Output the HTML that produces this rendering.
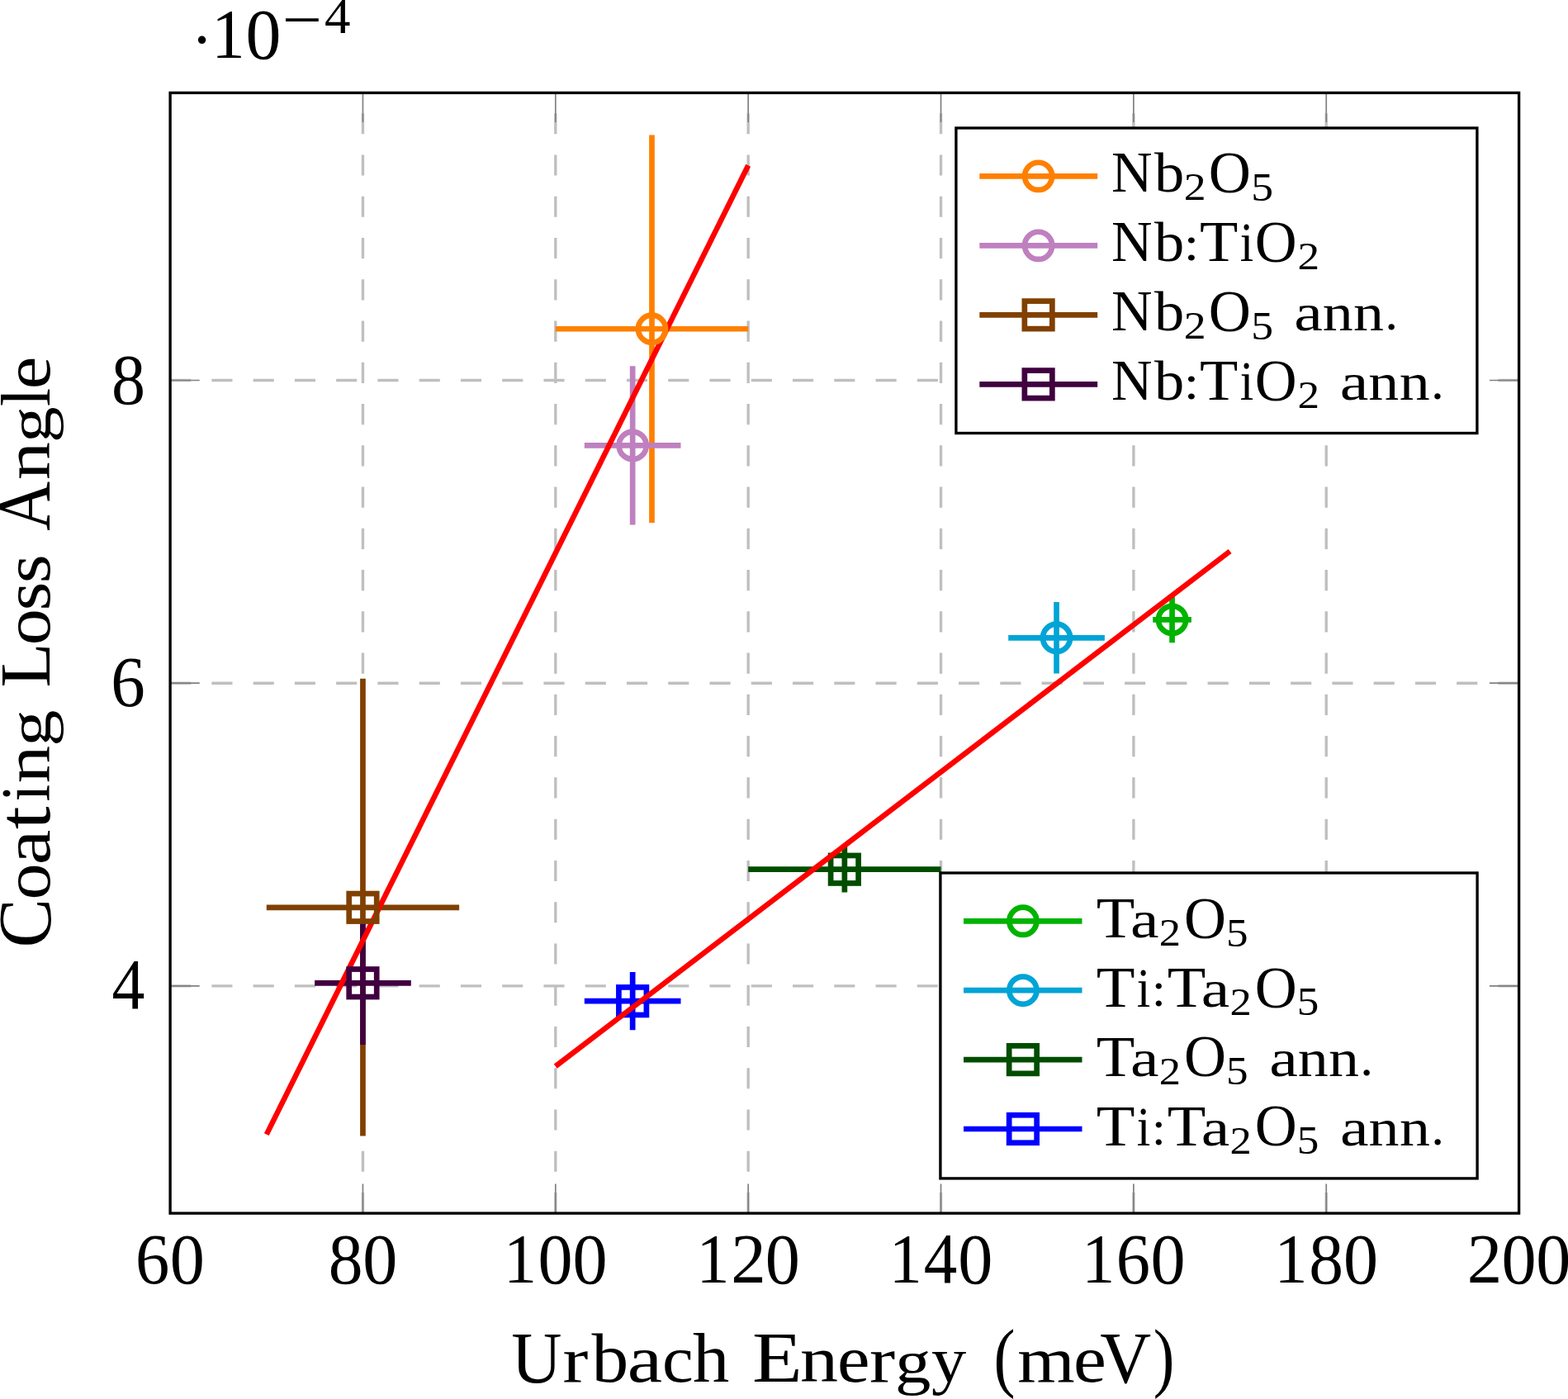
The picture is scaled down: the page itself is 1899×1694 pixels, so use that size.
<!DOCTYPE html><html><head><meta charset="utf-8"><style>html,body{margin:0;padding:0;background:#fff;}svg{display:block;}</style></head><body>
<svg width="1899" height="1694" viewBox="0 0 1899 1694">
<rect x="0" y="0" width="1899" height="1694" fill="#fff"/>
<path d="M439.46 1469.1V112.4 M672.81 1469.1V112.4 M906.17 1469.1V112.4 M1139.53 1469.1V112.4 M1372.89 1469.1V112.4 M1606.24 1469.1V112.4 M206.1 460.5H1839.6 M206.1 827.2H1839.6 M206.1 1193.9H1839.6" stroke="#bfbfbf" stroke-width="3.35" stroke-dasharray="25.13 25.13" fill="none"/>
<path d="M439.46 1469.1v-35.6 M439.46 112.4v35.6 M672.81 1469.1v-35.6 M672.81 112.4v35.6 M906.17 1469.1v-35.6 M906.17 112.4v35.6 M1139.53 1469.1v-35.6 M1139.53 112.4v35.6 M1372.89 1469.1v-35.6 M1372.89 112.4v35.6 M1606.24 1469.1v-35.6 M1606.24 112.4v35.6 M206.1 460.5h35.6 M1839.6 460.5h-35.6 M206.1 827.2h35.6 M1839.6 827.2h-35.6 M206.1 1193.9h35.6 M1839.6 1193.9h-35.6" stroke="#808080" stroke-width="1.7" fill="none"/>
<rect x="206.1" y="112.4" width="1633.5" height="1356.7" stroke="#000" stroke-width="3.35" fill="none"/>
<path d="M672.81 398.25H906.17M789.49 163.5V633" stroke="#ff8000" stroke-width="6.7" fill="none"/>
<path d="M707.82 539.4H824.5M766.16 443.2V635.6" stroke="#bf80bf" stroke-width="6.7" fill="none"/>
<path d="M322.78 1098.8H556.14M439.46 821.8V1375.5" stroke="#804000" stroke-width="6.7" fill="none"/>
<path d="M381.12 1190.3H497.8M439.46 1115.6V1265" stroke="#400040" stroke-width="6.7" fill="none"/>
<path d="M322.8 1373.6L906.2 200.3" stroke="#ff0000" stroke-width="6.5" fill="none"/>
<circle cx="789.49" cy="398.25" r="16.6" stroke="#ff8000" stroke-width="6.7" fill="none"/>
<circle cx="766.16" cy="539.4" r="16.6" stroke="#bf80bf" stroke-width="6.7" fill="none"/>
<rect x="422.71" y="1082.05" width="33.5" height="33.5" stroke="#804000" stroke-width="6.7" fill="none"/>
<rect x="422.71" y="1173.55" width="33.5" height="33.5" stroke="#400040" stroke-width="6.7" fill="none"/>
<path d="M1396.22 750.4H1442.89M1419.56 722.6V778.2" stroke="#00b300" stroke-width="6.7" fill="none"/>
<path d="M1221.2 772.3H1337.88M1279.54 729V815.4" stroke="#00a4d6" stroke-width="6.7" fill="none"/>
<path d="M906.17 1052.7H1139.53M1022.85 1024.8V1080.6" stroke="#004d00" stroke-width="6.7" fill="none"/>
<path d="M707.82 1212.2H824.5M766.16 1177V1247.3" stroke="#0000ff" stroke-width="6.7" fill="none"/>
<circle cx="1419.56" cy="750.4" r="16.6" stroke="#00b300" stroke-width="6.7" fill="none"/>
<circle cx="1279.54" cy="772.3" r="16.6" stroke="#00a4d6" stroke-width="6.7" fill="none"/>
<rect x="1006.1" y="1035.95" width="33.5" height="33.5" stroke="#004d00" stroke-width="6.7" fill="none"/>
<rect x="749.41" y="1195.45" width="33.5" height="33.5" stroke="#0000ff" stroke-width="6.7" fill="none"/>
<path d="M672.8 1291.1L1489.6 667.5" stroke="#ff0000" stroke-width="6.5" fill="none"/>
<rect x="1157.9" y="155" width="631" height="369.5" fill="#fff" stroke="#000" stroke-width="3.35"/>
<path d="M1186.3 213.35H1329.2" stroke="#ff8000" stroke-width="6.7" fill="none"/>
<circle cx="1257.6" cy="213.35" r="16.6" stroke="#ff8000" stroke-width="6.7" fill="none"/>
<path d="M1186.3 297.35H1329.2" stroke="#bf80bf" stroke-width="6.7" fill="none"/>
<circle cx="1257.6" cy="297.35" r="16.6" stroke="#bf80bf" stroke-width="6.7" fill="none"/>
<path d="M1186.3 381.35H1329.2" stroke="#804000" stroke-width="6.7" fill="none"/>
<rect x="1240.85" y="364.6" width="33.5" height="33.5" stroke="#804000" stroke-width="6.7" fill="none"/>
<path d="M1186.3 465.35H1329.2" stroke="#400040" stroke-width="6.7" fill="none"/>
<rect x="1240.85" y="448.6" width="33.5" height="33.5" stroke="#400040" stroke-width="6.7" fill="none"/>
<rect x="1138.9" y="1057" width="650.2" height="369.9" fill="#fff" stroke="#000" stroke-width="3.35"/>
<path d="M1167 1115.3H1310.5" stroke="#00b300" stroke-width="6.7" fill="none"/>
<circle cx="1238.9" cy="1115.3" r="16.6" stroke="#00b300" stroke-width="6.7" fill="none"/>
<path d="M1167 1199.2H1310.5" stroke="#00a4d6" stroke-width="6.7" fill="none"/>
<circle cx="1238.9" cy="1199.2" r="16.6" stroke="#00a4d6" stroke-width="6.7" fill="none"/>
<path d="M1167 1283.1H1310.5" stroke="#004d00" stroke-width="6.7" fill="none"/>
<rect x="1222.15" y="1266.35" width="33.5" height="33.5" stroke="#004d00" stroke-width="6.7" fill="none"/>
<path d="M1167 1367H1310.5" stroke="#0000ff" stroke-width="6.7" fill="none"/>
<rect x="1222.15" y="1350.25" width="33.5" height="33.5" stroke="#0000ff" stroke-width="6.7" fill="none"/>
<text font-family="'Liberation Serif', 'DejaVu Serif', serif"><tspan x="164.11" y="1553.84" font-size="86.57" textLength="41.29" lengthAdjust="spacingAndGlyphs">6</tspan><tspan x="205.84" y="1553.85" font-size="86.25" textLength="42.12" lengthAdjust="spacingAndGlyphs">0</tspan></text>
<text font-family="'Liberation Serif', 'DejaVu Serif', serif"><tspan x="397.64" y="1553.85" font-size="86.25" textLength="41.76" lengthAdjust="spacingAndGlyphs">8</tspan><tspan x="439.20" y="1553.85" font-size="86.25" textLength="42.12" lengthAdjust="spacingAndGlyphs">0</tspan></text>
<text font-family="'Liberation Serif', 'DejaVu Serif', serif"><tspan x="610.09" y="1552.70" font-size="85.17" textLength="40.00" lengthAdjust="spacingAndGlyphs">1</tspan><tspan x="651.61" y="1553.85" font-size="86.25" textLength="42.12" lengthAdjust="spacingAndGlyphs">0</tspan><tspan x="693.50" y="1553.85" font-size="86.25" textLength="42.12" lengthAdjust="spacingAndGlyphs">0</tspan></text>
<text font-family="'Liberation Serif', 'DejaVu Serif', serif"><tspan x="843.44" y="1552.70" font-size="85.17" textLength="40.00" lengthAdjust="spacingAndGlyphs">1</tspan><tspan x="885.15" y="1552.70" font-size="84.84" textLength="42.50" lengthAdjust="spacingAndGlyphs">2</tspan><tspan x="926.86" y="1553.85" font-size="86.25" textLength="42.12" lengthAdjust="spacingAndGlyphs">0</tspan></text>
<text font-family="'Liberation Serif', 'DejaVu Serif', serif"><tspan x="1076.80" y="1552.70" font-size="85.17" textLength="40.00" lengthAdjust="spacingAndGlyphs">1</tspan><tspan x="1118.81" y="1552.70" font-size="86.25" textLength="40.54" lengthAdjust="spacingAndGlyphs">4</tspan><tspan x="1160.21" y="1553.85" font-size="86.25" textLength="42.12" lengthAdjust="spacingAndGlyphs">0</tspan></text>
<text font-family="'Liberation Serif', 'DejaVu Serif', serif"><tspan x="1310.16" y="1552.70" font-size="85.17" textLength="40.00" lengthAdjust="spacingAndGlyphs">1</tspan><tspan x="1351.83" y="1553.84" font-size="86.57" textLength="41.29" lengthAdjust="spacingAndGlyphs">6</tspan><tspan x="1393.57" y="1553.85" font-size="86.25" textLength="42.12" lengthAdjust="spacingAndGlyphs">0</tspan></text>
<text font-family="'Liberation Serif', 'DejaVu Serif', serif"><tspan x="1543.52" y="1552.70" font-size="85.17" textLength="40.00" lengthAdjust="spacingAndGlyphs">1</tspan><tspan x="1585.37" y="1553.85" font-size="86.25" textLength="41.76" lengthAdjust="spacingAndGlyphs">8</tspan><tspan x="1626.93" y="1553.85" font-size="86.25" textLength="42.12" lengthAdjust="spacingAndGlyphs">0</tspan></text>
<text font-family="'Liberation Serif', 'DejaVu Serif', serif"><tspan x="1776.70" y="1552.70" font-size="84.84" textLength="42.50" lengthAdjust="spacingAndGlyphs">2</tspan><tspan x="1818.40" y="1553.85" font-size="86.25" textLength="42.12" lengthAdjust="spacingAndGlyphs">0</tspan><tspan x="1860.28" y="1553.85" font-size="86.25" textLength="42.12" lengthAdjust="spacingAndGlyphs">0</tspan></text>
<text font-family="'Liberation Serif', 'DejaVu Serif', serif"><tspan x="135.12" y="488.84" font-size="86.07" textLength="41.06" lengthAdjust="spacingAndGlyphs">8</tspan></text>
<text font-family="'Liberation Serif', 'DejaVu Serif', serif"><tspan x="134.37" y="855.24" font-size="86.39" textLength="41.52" lengthAdjust="spacingAndGlyphs">6</tspan></text>
<text font-family="'Liberation Serif', 'DejaVu Serif', serif"><tspan x="135.40" y="1221.10" font-size="86.84" textLength="39.89" lengthAdjust="spacingAndGlyphs">4</tspan></text>
<text font-family="'Liberation Serif', 'DejaVu Serif', serif"><tspan x="231.30" y="75.40" font-size="80.00" textLength="26.64" lengthAdjust="spacingAndGlyphs">·</tspan><tspan x="256.13" y="69.90" font-size="85.00" textLength="40.43" lengthAdjust="spacingAndGlyphs">1</tspan><tspan x="297.48" y="71.04" font-size="86.07" textLength="42.94" lengthAdjust="spacingAndGlyphs">0</tspan><tspan x="341.82" y="50.48" font-size="78.00" textLength="48.27" lengthAdjust="spacingAndGlyphs">−</tspan><tspan x="392.94" y="39.60" font-size="60.53" textLength="31.51" lengthAdjust="spacingAndGlyphs">4</tspan></text>
<text font-family="'Liberation Serif', 'DejaVu Serif', serif"><tspan x="619.30" y="1673.95" font-size="88.81" textLength="61.28" lengthAdjust="spacingAndGlyphs">U</tspan><tspan x="681.44" y="1673.00" font-size="78.36" textLength="30.90" lengthAdjust="spacingAndGlyphs">r</tspan><tspan x="716.40" y="1673.08" font-size="83.77" textLength="44.76" lengthAdjust="spacingAndGlyphs">b</tspan><tspan x="759.86" y="1673.12" font-size="80.11" textLength="42.37" lengthAdjust="spacingAndGlyphs">a</tspan><tspan x="802.01" y="1673.12" font-size="80.11" textLength="37.76" lengthAdjust="spacingAndGlyphs">c</tspan><tspan x="838.91" y="1673.00" font-size="83.65" textLength="44.29" lengthAdjust="spacingAndGlyphs">h</tspan> <tspan x="911.02" y="1673.00" font-size="87.35" textLength="60.62" lengthAdjust="spacingAndGlyphs">E</tspan><tspan x="969.13" y="1673.00" font-size="78.78" textLength="46.05" lengthAdjust="spacingAndGlyphs">n</tspan><tspan x="1013.94" y="1673.12" font-size="80.11" textLength="39.47" lengthAdjust="spacingAndGlyphs">e</tspan><tspan x="1052.93" y="1673.00" font-size="78.36" textLength="31.12" lengthAdjust="spacingAndGlyphs">r</tspan><tspan x="1083.91" y="1673.83" font-size="74.85" textLength="43.43" lengthAdjust="spacingAndGlyphs">g</tspan><tspan x="1127.94" y="1672.57" font-size="77.56" textLength="42.28" lengthAdjust="spacingAndGlyphs">y</tspan> <tspan x="1203.59" y="1674.27" font-size="92.56" textLength="25.99" lengthAdjust="spacingAndGlyphs">(</tspan><tspan x="1232.21" y="1673.00" font-size="78.78" textLength="69.46" lengthAdjust="spacingAndGlyphs">m</tspan><tspan x="1300.11" y="1673.12" font-size="80.11" textLength="39.83" lengthAdjust="spacingAndGlyphs">e</tspan><tspan x="1332.34" y="1673.52" font-size="88.15" textLength="61.90" lengthAdjust="spacingAndGlyphs">V</tspan><tspan x="1396.70" y="1674.27" font-size="92.56" textLength="25.61" lengthAdjust="spacingAndGlyphs">)</tspan></text>
<text font-family="'Liberation Serif', 'DejaVu Serif', serif" transform="rotate(-90)"><tspan x="-1147.56" y="60.74" font-size="90.56" textLength="59.42" lengthAdjust="spacingAndGlyphs">C</tspan><tspan x="-1089.51" y="59.92" font-size="80.11" textLength="44.12" lengthAdjust="spacingAndGlyphs">o</tspan><tspan x="-1047.26" y="59.92" font-size="80.11" textLength="42.59" lengthAdjust="spacingAndGlyphs">a</tspan><tspan x="-1004.21" y="59.81" font-size="91.60" textLength="27.95" lengthAdjust="spacingAndGlyphs">t</tspan><tspan x="-970.49" y="59.80" font-size="84.59" textLength="20.73" lengthAdjust="spacingAndGlyphs">i</tspan><tspan x="-948.15" y="59.80" font-size="78.78" textLength="45.51" lengthAdjust="spacingAndGlyphs">n</tspan><tspan x="-903.86" y="60.63" font-size="74.85" textLength="44.23" lengthAdjust="spacingAndGlyphs">g</tspan> <tspan x="-832.55" y="59.80" font-size="87.35" textLength="54.04" lengthAdjust="spacingAndGlyphs">L</tspan><tspan x="-781.22" y="59.92" font-size="80.11" textLength="44.24" lengthAdjust="spacingAndGlyphs">o</tspan><tspan x="-739.40" y="59.92" font-size="80.11" textLength="35.00" lengthAdjust="spacingAndGlyphs">s</tspan><tspan x="-706.30" y="59.92" font-size="80.11" textLength="35.00" lengthAdjust="spacingAndGlyphs">s</tspan> <tspan x="-642.83" y="59.80" font-size="90.88" textLength="59.82" lengthAdjust="spacingAndGlyphs">A</tspan><tspan x="-581.07" y="59.80" font-size="78.78" textLength="45.95" lengthAdjust="spacingAndGlyphs">n</tspan><tspan x="-536.02" y="60.63" font-size="74.85" textLength="43.77" lengthAdjust="spacingAndGlyphs">g</tspan><tspan x="-491.88" y="59.80" font-size="83.65" textLength="22.00" lengthAdjust="spacingAndGlyphs">l</tspan><tspan x="-471.28" y="59.92" font-size="80.11" textLength="39.71" lengthAdjust="spacingAndGlyphs">e</tspan></text>
<text font-family="'Liberation Serif', 'DejaVu Serif', serif"><tspan x="1345.94" y="232.10" font-size="70.07" textLength="49.58" lengthAdjust="spacingAndGlyphs">N</tspan><tspan x="1397.90" y="232.17" font-size="67.20" textLength="36.22" lengthAdjust="spacingAndGlyphs">b</tspan><tspan x="1433.78" y="242.30" font-size="47.40" textLength="26.88" lengthAdjust="spacingAndGlyphs">2</tspan><tspan x="1463.87" y="232.85" font-size="72.65" textLength="51.12" lengthAdjust="spacingAndGlyphs">O</tspan><tspan x="1515.21" y="242.72" font-size="48.27" textLength="26.83" lengthAdjust="spacingAndGlyphs">5</tspan></text>
<text font-family="'Liberation Serif', 'DejaVu Serif', serif"><tspan x="1345.94" y="316.15" font-size="70.07" textLength="49.58" lengthAdjust="spacingAndGlyphs">N</tspan><tspan x="1397.90" y="316.22" font-size="67.20" textLength="36.22" lengthAdjust="spacingAndGlyphs">b</tspan><tspan x="1433.55" y="315.25" font-size="59.72" textLength="18.92" lengthAdjust="spacingAndGlyphs">:</tspan><tspan x="1453.07" y="316.15" font-size="70.07" textLength="46.33" lengthAdjust="spacingAndGlyphs">T</tspan><tspan x="1501.72" y="316.15" font-size="67.86" textLength="16.44" lengthAdjust="spacingAndGlyphs">i</tspan><tspan x="1519.78" y="316.90" font-size="72.65" textLength="50.89" lengthAdjust="spacingAndGlyphs">O</tspan><tspan x="1571.40" y="326.35" font-size="47.40" textLength="26.62" lengthAdjust="spacingAndGlyphs">2</tspan></text>
<text font-family="'Liberation Serif', 'DejaVu Serif', serif"><tspan x="1345.94" y="400.00" font-size="70.07" textLength="49.58" lengthAdjust="spacingAndGlyphs">N</tspan><tspan x="1397.90" y="400.07" font-size="67.20" textLength="36.22" lengthAdjust="spacingAndGlyphs">b</tspan><tspan x="1433.78" y="410.20" font-size="47.40" textLength="26.88" lengthAdjust="spacingAndGlyphs">2</tspan><tspan x="1463.87" y="400.75" font-size="72.65" textLength="51.12" lengthAdjust="spacingAndGlyphs">O</tspan><tspan x="1515.21" y="410.62" font-size="48.27" textLength="26.83" lengthAdjust="spacingAndGlyphs">5</tspan> <tspan x="1567.17" y="400.10" font-size="64.26" textLength="34.61" lengthAdjust="spacingAndGlyphs">a</tspan><tspan x="1601.74" y="400.00" font-size="63.20" textLength="36.97" lengthAdjust="spacingAndGlyphs">n</tspan><tspan x="1639.14" y="400.00" font-size="63.20" textLength="36.97" lengthAdjust="spacingAndGlyphs">n</tspan><tspan x="1677.38" y="399.09" font-size="60.62" textLength="15.83" lengthAdjust="spacingAndGlyphs">.</tspan></text>
<text font-family="'Liberation Serif', 'DejaVu Serif', serif"><tspan x="1345.94" y="484.15" font-size="70.07" textLength="49.58" lengthAdjust="spacingAndGlyphs">N</tspan><tspan x="1397.90" y="484.22" font-size="67.20" textLength="36.22" lengthAdjust="spacingAndGlyphs">b</tspan><tspan x="1433.55" y="483.25" font-size="59.72" textLength="18.92" lengthAdjust="spacingAndGlyphs">:</tspan><tspan x="1453.07" y="484.15" font-size="70.07" textLength="46.33" lengthAdjust="spacingAndGlyphs">T</tspan><tspan x="1501.72" y="484.15" font-size="67.86" textLength="16.44" lengthAdjust="spacingAndGlyphs">i</tspan><tspan x="1519.78" y="484.90" font-size="72.65" textLength="50.89" lengthAdjust="spacingAndGlyphs">O</tspan><tspan x="1571.40" y="494.35" font-size="47.40" textLength="26.62" lengthAdjust="spacingAndGlyphs">2</tspan> <tspan x="1622.77" y="484.25" font-size="64.26" textLength="34.61" lengthAdjust="spacingAndGlyphs">a</tspan><tspan x="1657.34" y="484.15" font-size="63.20" textLength="36.97" lengthAdjust="spacingAndGlyphs">n</tspan><tspan x="1694.74" y="484.15" font-size="63.20" textLength="36.97" lengthAdjust="spacingAndGlyphs">n</tspan><tspan x="1732.98" y="483.24" font-size="60.62" textLength="15.83" lengthAdjust="spacingAndGlyphs">.</tspan></text>
<text font-family="'Liberation Serif', 'DejaVu Serif', serif"><tspan x="1327.77" y="1134.90" font-size="70.07" textLength="46.54" lengthAdjust="spacingAndGlyphs">T</tspan><tspan x="1368.98" y="1135.00" font-size="64.26" textLength="34.50" lengthAdjust="spacingAndGlyphs">a</tspan><tspan x="1403.74" y="1145.10" font-size="47.40" textLength="26.25" lengthAdjust="spacingAndGlyphs">2</tspan><tspan x="1433.88" y="1135.65" font-size="72.65" textLength="51.00" lengthAdjust="spacingAndGlyphs">O</tspan><tspan x="1484.94" y="1145.52" font-size="48.27" textLength="26.58" lengthAdjust="spacingAndGlyphs">5</tspan></text>
<text font-family="'Liberation Serif', 'DejaVu Serif', serif"><tspan x="1327.86" y="1218.80" font-size="70.07" textLength="46.75" lengthAdjust="spacingAndGlyphs">T</tspan><tspan x="1376.71" y="1218.80" font-size="67.86" textLength="16.56" lengthAdjust="spacingAndGlyphs">i</tspan><tspan x="1394.83" y="1217.90" font-size="59.72" textLength="17.26" lengthAdjust="spacingAndGlyphs">:</tspan><tspan x="1413.67" y="1218.80" font-size="70.07" textLength="46.54" lengthAdjust="spacingAndGlyphs">T</tspan><tspan x="1454.88" y="1218.90" font-size="64.26" textLength="34.50" lengthAdjust="spacingAndGlyphs">a</tspan><tspan x="1489.64" y="1229.00" font-size="47.40" textLength="26.25" lengthAdjust="spacingAndGlyphs">2</tspan><tspan x="1519.77" y="1219.55" font-size="72.65" textLength="51.00" lengthAdjust="spacingAndGlyphs">O</tspan><tspan x="1570.84" y="1229.42" font-size="48.27" textLength="26.58" lengthAdjust="spacingAndGlyphs">5</tspan></text>
<text font-family="'Liberation Serif', 'DejaVu Serif', serif"><tspan x="1327.77" y="1302.70" font-size="70.07" textLength="46.54" lengthAdjust="spacingAndGlyphs">T</tspan><tspan x="1368.98" y="1302.80" font-size="64.26" textLength="34.50" lengthAdjust="spacingAndGlyphs">a</tspan><tspan x="1403.74" y="1312.90" font-size="47.40" textLength="26.25" lengthAdjust="spacingAndGlyphs">2</tspan><tspan x="1433.88" y="1303.45" font-size="72.65" textLength="51.00" lengthAdjust="spacingAndGlyphs">O</tspan><tspan x="1484.94" y="1313.32" font-size="48.27" textLength="26.58" lengthAdjust="spacingAndGlyphs">5</tspan> <tspan x="1537.17" y="1302.80" font-size="64.26" textLength="34.61" lengthAdjust="spacingAndGlyphs">a</tspan><tspan x="1571.74" y="1302.70" font-size="63.20" textLength="36.97" lengthAdjust="spacingAndGlyphs">n</tspan><tspan x="1609.14" y="1302.70" font-size="63.20" textLength="36.97" lengthAdjust="spacingAndGlyphs">n</tspan><tspan x="1647.38" y="1301.79" font-size="60.62" textLength="15.83" lengthAdjust="spacingAndGlyphs">.</tspan></text>
<text font-family="'Liberation Serif', 'DejaVu Serif', serif"><tspan x="1327.86" y="1386.60" font-size="70.07" textLength="46.75" lengthAdjust="spacingAndGlyphs">T</tspan><tspan x="1376.71" y="1386.60" font-size="67.86" textLength="16.56" lengthAdjust="spacingAndGlyphs">i</tspan><tspan x="1394.83" y="1385.70" font-size="59.72" textLength="17.26" lengthAdjust="spacingAndGlyphs">:</tspan><tspan x="1413.67" y="1386.60" font-size="70.07" textLength="46.54" lengthAdjust="spacingAndGlyphs">T</tspan><tspan x="1454.88" y="1386.70" font-size="64.26" textLength="34.50" lengthAdjust="spacingAndGlyphs">a</tspan><tspan x="1489.64" y="1396.80" font-size="47.40" textLength="26.25" lengthAdjust="spacingAndGlyphs">2</tspan><tspan x="1519.77" y="1387.35" font-size="72.65" textLength="51.00" lengthAdjust="spacingAndGlyphs">O</tspan><tspan x="1570.84" y="1397.22" font-size="48.27" textLength="26.58" lengthAdjust="spacingAndGlyphs">5</tspan> <tspan x="1622.97" y="1386.70" font-size="64.26" textLength="34.61" lengthAdjust="spacingAndGlyphs">a</tspan><tspan x="1657.54" y="1386.60" font-size="63.20" textLength="36.97" lengthAdjust="spacingAndGlyphs">n</tspan><tspan x="1694.94" y="1386.60" font-size="63.20" textLength="36.97" lengthAdjust="spacingAndGlyphs">n</tspan><tspan x="1733.18" y="1385.69" font-size="60.62" textLength="15.83" lengthAdjust="spacingAndGlyphs">.</tspan></text>
</svg></body></html>
